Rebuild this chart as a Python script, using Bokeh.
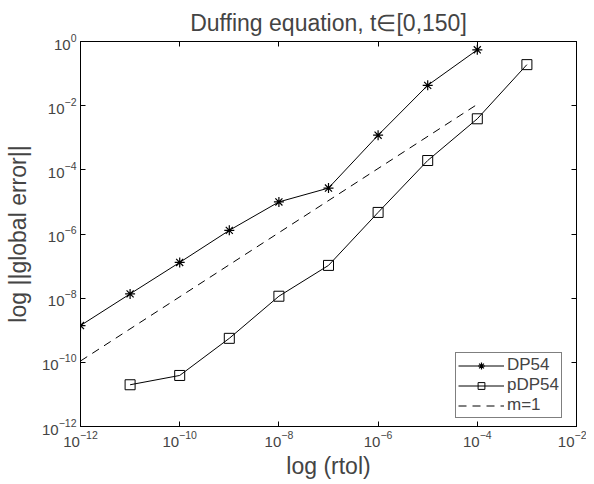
from bokeh.plotting import figure
from bokeh.models import (Range1d, FixedTicker, LogAxis, Legend, LegendItem,
                          CustomJSTickFormatter, Title)
from bokeh.embed import file_html
from bokeh.resources import INLINE

# data
rtol_dp = [1e-12, 1e-11, 1e-10, 1e-9, 1e-8, 1e-7, 1e-6, 1e-5, 1e-4]
err_dp = [1.4e-9, 1.36e-8, 1.3e-7, 1.3e-6, 1.0e-5, 2.7e-5, 1.2e-3, 4.3e-2, 5.5e-1]
rtol_pdp = [1e-11, 1e-10, 1e-9, 1e-8, 1e-7, 1e-6, 1e-5, 1e-4, 1e-3]
err_pdp = [2.0e-11, 3.9e-11, 5.6e-10, 1.15e-8, 1.05e-7, 4.7e-6, 1.95e-4, 3.9e-3, 1.9e-1]
m1_x = [1e-12, 1e-4]
m1_y = [1.1e-10, 1.1e-2]
xticks = [1e-12, 1e-10, 1e-8, 1e-6, 1e-4, 1e-2]
yticks = [1e-12, 1e-10, 1e-8, 1e-6, 1e-4, 1e-2, 1e0]

FONT = "Liberation Sans"

p = figure(x_axis_type="log", y_axis_type="log",
           x_range=Range1d(1e-12, 1e-2), y_range=Range1d(1e-12, 1e0),
           frame_width=496, frame_height=385,
           min_border_left=80, min_border_right=10,
           min_border_top=41, min_border_bottom=50,
           output_backend="svg", toolbar_location=None)
p.title = Title(text="Duffing equation, t\u2208[0,150]", align="center",
                text_font=FONT, text_font_size="23px", text_font_style="normal",
                offset=0, standoff=12)
p.xgrid.visible = False
p.ygrid.visible = False
p.outline_line_color = "black"
p.outline_line_width = 1
p.background_fill_color = "white"
p.border_fill_color = "white"

for ax in [p.xaxis[0], p.yaxis[0]]:
    ax.major_tick_in = 5
    ax.major_tick_out = 0
    ax.minor_tick_in = 0
    ax.minor_tick_out = 0
    ax.major_label_text_font = FONT
    ax.major_label_text_font_size = "15px"
    ax.axis_label_text_font = FONT
    ax.axis_label_text_font_size = "23px"
    ax.axis_label_text_font_style = "normal"
    ax.axis_line_color = "black"
    ax.major_label_standoff = 4

p.xaxis[0].ticker = FixedTicker(ticks=xticks, minor_ticks=[])
p.yaxis[0].ticker = FixedTicker(ticks=yticks, minor_ticks=[])
p.xaxis[0].axis_label = "log (rtol)"
p.yaxis[0].axis_label = "log ||global error||"
p.xaxis[0].axis_label_standoff = 3
p.yaxis[0].axis_label_standoff = 8

blank = CustomJSTickFormatter(code="return ''")
top = LogAxis(ticker=FixedTicker(ticks=xticks, minor_ticks=[]), formatter=blank,
              major_tick_in=5, major_tick_out=0, minor_tick_in=0, minor_tick_out=0,
              major_label_standoff=0)
right = LogAxis(ticker=FixedTicker(ticks=yticks, minor_ticks=[]), formatter=blank,
                major_tick_in=5, major_tick_out=0, minor_tick_in=0, minor_tick_out=0,
                major_label_standoff=0)
p.add_layout(top, "above")
p.add_layout(right, "right")

l1 = p.line(rtol_dp, err_dp, line_color="black", line_width=1)
s1 = p.scatter(rtol_dp, err_dp, marker="asterisk", size=10, line_color="black",
               line_width=1.2)
l2 = p.line(rtol_pdp, err_pdp, line_color="black", line_width=1)
s2 = p.scatter(rtol_pdp, err_pdp, marker="square", size=10, line_color="black",
               fill_color=None, line_width=1)
l3 = p.line(m1_x, m1_y, line_color="black", line_width=1, line_dash="8 6")

legend = Legend(items=[LegendItem(label="DP54", renderers=[l1, s1]),
                       LegendItem(label="pDP54", renderers=[l2, s2]),
                       LegendItem(label="m=1", renderers=[l3])],
                location=(375, 8), orientation="vertical",
                label_text_font=FONT, label_text_font_size="17px",
                glyph_width=46, glyph_height=17, label_height=17,
                label_standoff=3, padding=2, spacing=0, margin=0,
                border_line_color="black", border_line_width=1,
                background_fill_color="white", background_fill_alpha=1)
p.add_layout(legend, "center")

open("out.html", "w").write(file_html(p, INLINE))
